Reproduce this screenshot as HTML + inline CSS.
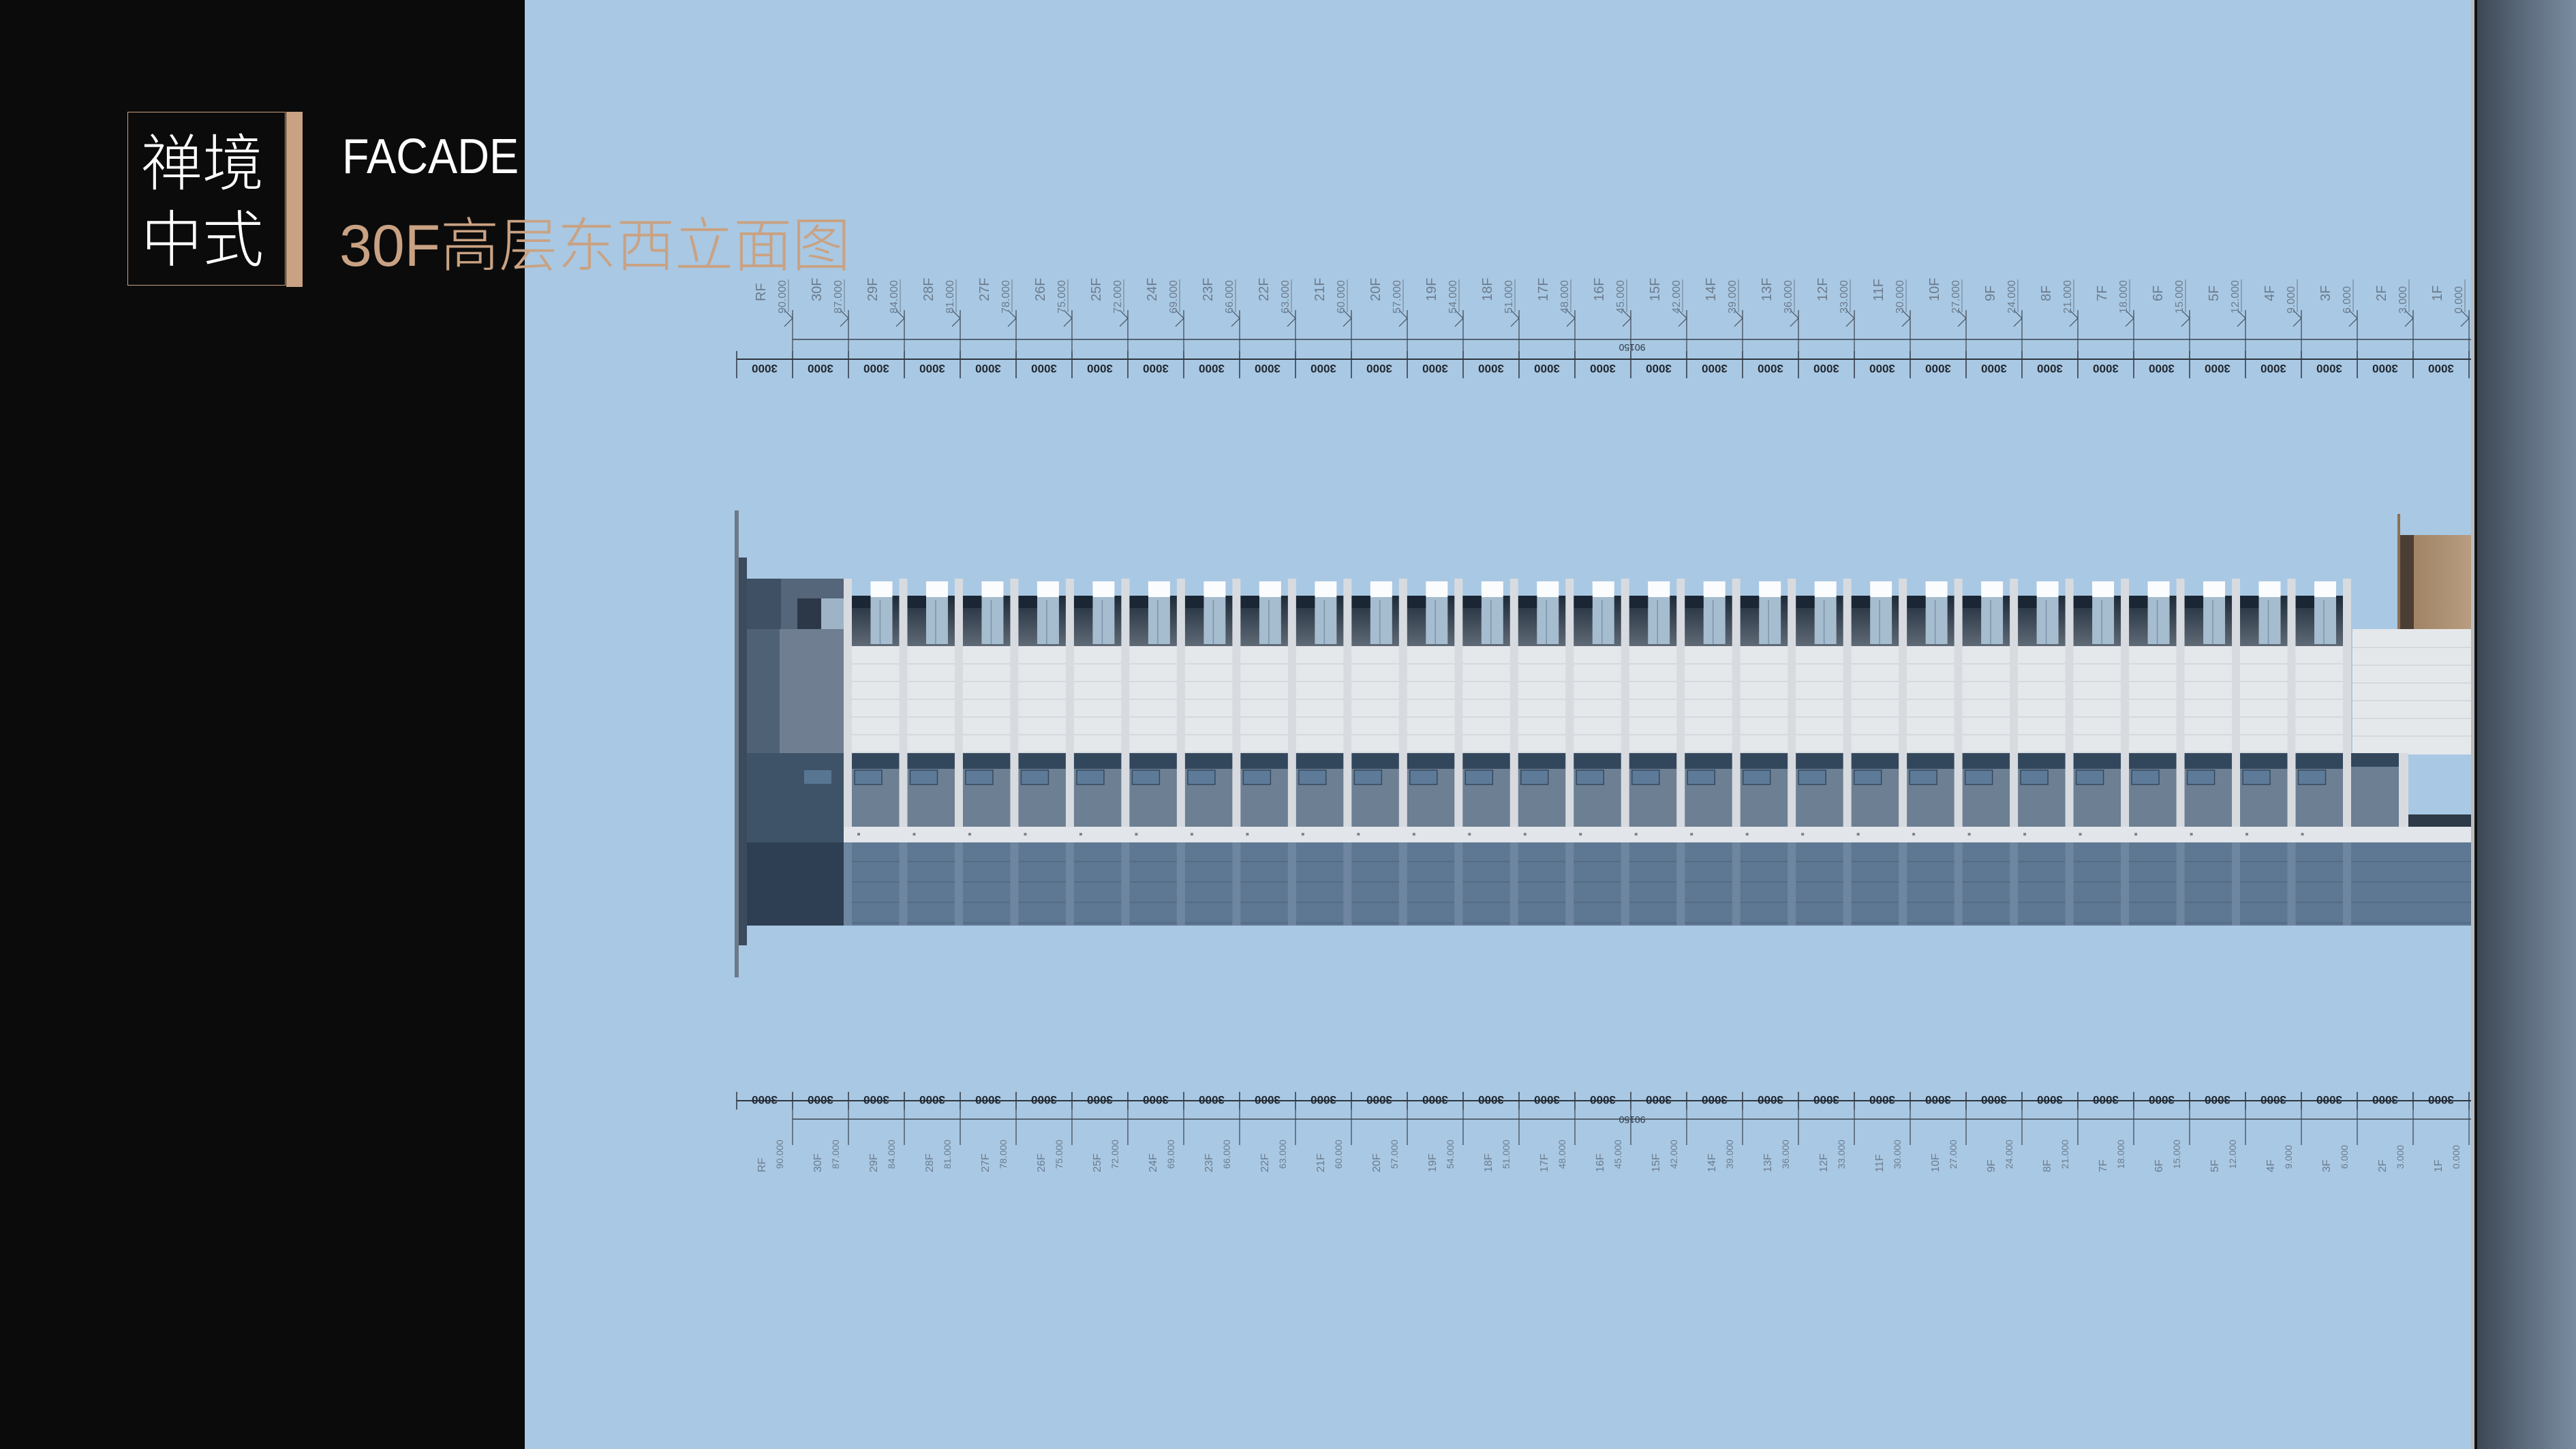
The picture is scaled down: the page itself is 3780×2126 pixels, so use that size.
<!DOCTYPE html>
<html><head><meta charset="utf-8">
<style>
html,body{margin:0;padding:0}
body{width:3780px;height:2126px;position:relative;overflow:hidden;background:#0b0b0b;font-family:"Liberation Sans","Noto Sans CJK SC",sans-serif}
.abs{position:absolute}
</style></head>
<body>
<div class="abs" style="left:770px;top:0;width:2863px;height:2126px;background:#a9c8e3"></div>

<svg class="abs" style="left:0;top:0" width="3780" height="2126" id="s"></svg>

<div class="abs" style="left:3626px;top:0;width:6px;height:2126px;background:#b9bcbe"></div>
<div class="abs" style="left:3631px;top:0;width:4px;height:2126px;background:#111"></div>
<div class="abs" style="left:3635px;top:0;width:145px;height:2126px;background:linear-gradient(90deg,#3c4753,#5d6d7e 50%,#7a8ca0)"></div>

<div class="abs" style="left:187px;top:164px;width:232px;height:255px;border:1.5px solid #c9a283;box-sizing:border-box"></div>
<div class="abs" style="left:420px;top:164px;width:24px;height:257px;background:#c9a283"></div>
<div class="abs" style="left:207px;top:176px;color:#fff;font-size:90px;line-height:112px;font-family:'Noto Sans CJK SC',sans-serif;font-weight:300">禅境<br>中式</div>
<div class="abs" style="left:502px;top:185px;color:#fff;font-size:72px;line-height:90px;transform:scaleX(0.9);transform-origin:left">FACADE</div>
<div class="abs" style="left:498px;top:306px;color:#c9a283;font-size:86px;line-height:110px;font-family:'Liberation Sans','Noto Sans CJK SC',sans-serif;font-weight:300">30F高层东西立面图</div>

<script>
var s='';
function R(x,y,w,h,c,e){s+='<rect x="'+x+'" y="'+y+'" width="'+w+'" height="'+h+'" fill="'+c+'" '+(e||'')+'/>';}
function L(x1,y1,x2,y2,c,w){s+='<line x1="'+x1+'" y1="'+y1+'" x2="'+x2+'" y2="'+y2+'" stroke="'+(c||'#3a4450')+'" stroke-width="'+(w||1.5)+'"/>';}
function T(x,y,t,rot,sz,c,extra){s+='<text x="'+x+'" y="'+y+'" font-size="'+sz+'" fill="'+c+'" font-family="Liberation Sans" '+(rot?'transform="rotate('+rot+' '+x+' '+y+')"':'')+' '+(extra||'')+'>'+t+'</text>';}
s+='<defs><linearGradient id="tg" x1="0" y1="0" x2="0" y2="1"><stop offset="0" stop-color="#1d2a38"/><stop offset="1" stop-color="#5f6a76"/></linearGradient><linearGradient id="bg" x1="0" y1="0" x2="1" y2="0"><stop offset="0" stop-color="#9a7c5e"/><stop offset="1" stop-color="#b89d80"/></linearGradient></defs>';
var X0=1238,X1=3438,N=27,bw=(X1-X0)/N;
R(X0,874,X1-X0,74,'url(#tg)');
R(X0,948,X1-X0,157,'#e5e8eb');
R(X0,1105,X1-X0,23,'#33475c');
R(X0,1128,X1-X0,85,'#6d7f92');
R(X0,1213,X1-X0+190,23,'#e2e6ea');
R(X0,1236,X1-X0+190,122,'#5e7893');
for(var y=974;y<1105;y+=26)L(X0,y,X1+188,y,'#c4cad1',1);
for(var y=1264;y<1358;y+=30)L(X0,y,X1+188,y,'#4a5e74',1);
for(var i=0;i<N;i++){
 var x=X0+i*bw;
 R(x+bw-42,876,32,69,'#a6bccf');
 R(x+bw-42,853,32,23,'#fbfcfd');
 L(x+bw-28,880,x+bw-28,945,'#7b93aa',1.5);
 R(x+12,874,bw-54,18,'#1a2634');
 R(x+16,1130,40,21,'#5d7b98','stroke="#34495e" stroke-width="1.5"');
 R(x+20,1222,4,4,'#7d8791');
}
for(var i=0;i<=N;i++){var x=X0+i*bw;R(x,849,12,364,'#d7dbe0');R(x,1236,12,122,'#6f86a0');}
R(3452,923,174,184,'#e5e8eb');
for(var y=950;y<1105;y+=26)L(3452,y,3626,y,'#c4cad1',1);
R(3450,1105,82,108,'#6d7f92');R(3450,1105,82,20,'#33475c');
R(3520,1105,14,108,'#d7dbe0');
R(3534,1107,92,88,'#a9c8e3');
R(3534,1195,92,18,'#2e3a48');
R(3518,785,108,138,'url(#bg)');
R(3518,754,4,169,'#8d6f50');
R(3522,785,20,138,'#4b3f35');
R(1078,749,6,685,'#6d7a89');
R(1084,818,12,569,'#3b4b5d');
R(1096,849,142,74,'#55667a');
R(1096,849,50,74,'#3f5064');
R(1170,878,45,45,'#2c3848');
R(1205,878,33,45,'#9eb3c6');
R(1096,923,142,182,'#6f7f91');
R(1096,923,48,182,'#4f6275');
R(1096,1105,142,131,'#3f5368');
R(1180,1130,40,20,'#587592');
R(1096,1236,142,122,'#2e3f53');
var D0=1081,dx=82,M=32;
L(D0,527,3633,527,'#2e3640',2);L(1163,498,3633,498,'#3a4450',1.5);
L(D0,1615,3633,1615,'#2e3640',2);L(1163,1642,3633,1642,'#3a4450',1.5);
for(var i=0;i<M;i++){
 var x=D0+i*dx;
 L(x,515,x,555,'#2e3640',1.5);L(x,1602,x,1628,'#2e3640',1.5);
 T(x+dx/2,535,'3000',180,17,'#1f2730','text-anchor="middle" font-weight="bold"');
 T(x+dx/2,1608,'3000',180,17,'#1f2730','text-anchor="middle" font-weight="bold"');
}
var names=['RF'];for(var n=30;n>=1;n--)names.push(n+'F');
for(var i=0;i<names.length;i++){
 var x=1163+i*dx;var el=(90-3*i);var es=el+'.000';
 L(x,455,x,527,'#3a4450',1.2);
 s+='<polyline points="'+(x-12)+',479 '+x+',467 '+(x-12)+',455" fill="none" stroke="#44505c" stroke-width="1.2"/>';
 T(x-40,442,names[i],-90,20,'#6b7c8e');
 T(x-10,460,es,-90,16,'#6b7c8e');
 L(x-6,410,x-6,458,'#6b7c8e',1);
 L(x,1615,x,1680,'#3a4450',1.2);
 T(x-40,1720,names[i],-90,16,'#6b7c8e');
 T(x-14,1715,es,-90,14,'#6b7c8e');
}
T(2395,505,'90150',180,14,'#2e3640','text-anchor="middle"');
T(2395,1638,'90150',180,14,'#2e3640','text-anchor="middle"');
document.getElementById('s').innerHTML=s;
</script>
</body></html>
